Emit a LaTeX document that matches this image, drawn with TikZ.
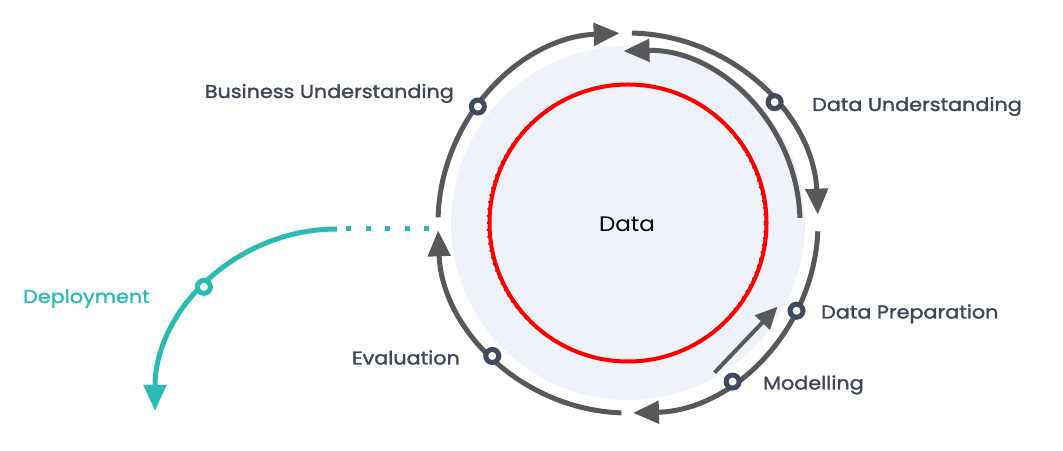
\documentclass[tikz,border=0pt]{standalone}
\usepackage{fontspec}
\setmainfont{Poppins}
\newfontfamily\lblfont[FakeStretch=1.12,FakeBold=1.6]{Poppins}
\newfontfamily\datafont[FakeStretch=1.1]{Poppins}
\usetikzlibrary{arrows.meta,calc}
\definecolor{arcgray}{HTML}{58585A}
\definecolor{ring}{HTML}{3E4A5E}
\definecolor{txt}{HTML}{3F4656}
\definecolor{depteal}{HTML}{2BBBB5}
\definecolor{fillc}{HTML}{EFF2F9}
\begin{document}
\begin{tikzpicture}[x=1pt,y=1pt,
  cyc/.style={draw=arcgray,line width=5pt},
  bigtip/.style={-{Triangle[length=26pt,width=22pt]}},
  marker/.style={circle,draw=ring,fill=white,line width=5pt,minimum size=13pt,inner sep=0pt},
  lbl/.style={font=\lblfont\fontsize{18.5}{22}\selectfont,text=txt,inner sep=0pt},
]
\useasboundingbox (0,0) rectangle (1063,450);
\coordinate (C) at (628,227);
\fill[fillc] (C) circle[radius=177pt];
\draw[ring,line width=1.5pt,dash pattern=on 2pt off 5pt] ($(C)+(-2pt,0pt)$) circle[radius=138.5pt];
\draw[red,line width=4pt] (C) circle[radius=138.5pt];
\node[font=\datafont\fontsize{21}{25}\selectfont,anchor=base,inner sep=0pt] (data) at (627,218) {Data};
% cycle arcs
\coordinate (a1) at ($(C)+(178.3:190pt)$);
\draw[cyc,bigtip] (a1) arc[start angle=178.3,end angle=92.5,radius=190pt];
\coordinate (a2) at ($(C)+(88.8:190pt)$);
\draw[cyc,bigtip] (a2) arc[start angle=88.8,end angle=2.5,radius=190pt];
\coordinate (a3) at ($(C)+(1.7:172pt)$);
\draw[cyc,bigtip] (a3) arc[start angle=1.7,end angle=91.5,radius=172pt];
\coordinate (a4) at ($(C)+(-2.5:190pt)$);
\draw[cyc,bigtip] (a4) arc[start angle=-2.5,end angle=-88.5,radius=190pt];
\coordinate (a5) at ($(C)+(-92:190pt)$);
\draw[cyc,bigtip] (a5) arc[start angle=-92,end angle=-177.8,radius=190pt];
% markers
\node[marker] (bu) at ($(C)+(142.2:190pt)$) {};
\node[marker] (du) at ($(C)+(39.5:190pt)$) {};
\node[marker] (dp) at ($(C)+(-27.5:190pt)$) {};
\node[marker] (mo) at ($(C)+(-56.6:190pt)$) {};
\node[marker] (ev) at ($(C)+(-135.6:190pt)$) {};
% modelling -> data preparation
\coordinate (ms) at ($(mo)+(-18pt,9pt)$);
\coordinate (me) at ($(dp)+(-19pt,4pt)$);
\draw[arcgray,line width=4pt,-{Triangle[length=22pt,width=20pt]}] (ms) -- (me);
% deployment
\coordinate (ds) at (337,221);
\coordinate (dc) at (337,39);
\draw[depteal,line width=5pt,dash pattern=on 5pt off 14.5pt] (346,221) -- (429,221);
\draw[depteal,line width=5pt,bigtip] (ds) arc[start angle=90,end angle=180,radius=182pt];
\node[marker,draw=depteal] (dep) at ($(dc)+(137:182pt)$) {};
% labels
\node[lbl,anchor=base east] (lbu) at (454,352) {Business Understanding};
\node[lbl,anchor=base west] (ldu) at (812,339) {Data Understanding};
\node[lbl,anchor=base west] (ldp) at (821,131.5) {Data Preparation};
\node[lbl,anchor=base west] (lmo) at (763,60.5) {Modelling};
\node[lbl,anchor=base east] (lev) at (460,85.5) {Evaluation};
\node[lbl,anchor=base west,text=depteal] (ldep) at (23,147) {Deployment};
\end{tikzpicture}
\end{document}
